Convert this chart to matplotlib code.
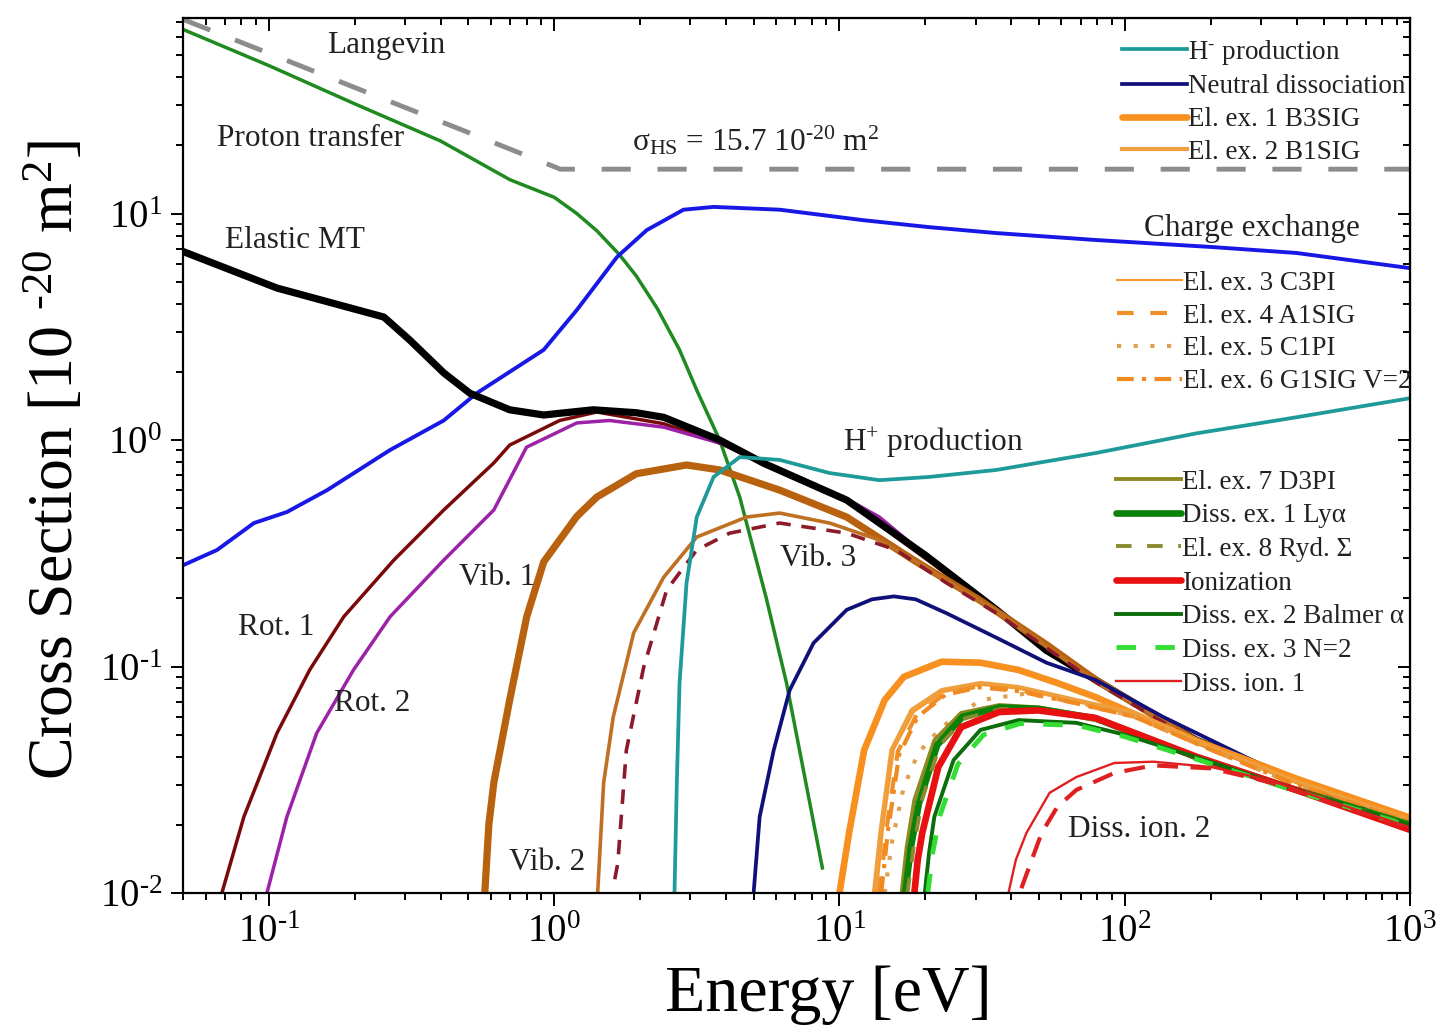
import matplotlib
matplotlib.use("Agg")
import matplotlib.pyplot as plt
import numpy as np
from matplotlib.ticker import NullFormatter, FuncFormatter

plt.rcParams['font.family'] = ['Liberation Serif', 'DejaVu Serif']
plt.rcParams['mathtext.fontset'] = 'custom'
plt.rcParams['mathtext.rm'] = 'Liberation Serif'
plt.rcParams['mathtext.it'] = 'Liberation Serif:italic'
plt.rcParams['mathtext.bf'] = 'Liberation Serif:bold'
plt.rcParams['axes.unicode_minus'] = False

# ---- data (energy in eV, cross section in 1e-20 m^2) ----
lang_E = [0.05, 0.1, 0.2, 0.5, 1.0, 1.05, 10, 100, 1000]
lang_s = [72, 51, 36, 22.8, 16.1, 15.7, 15.7, 15.7, 15.7]

pt_E = [0.05, 0.1, 0.2, 0.4, 0.7, 1.0, 1.2, 1.41, 1.69, 1.94, 2.3, 2.75, 3.16, 3.8, 4.47, 5.54, 6.52, 8.71]
pt_s = [65, 45, 30.5, 20.9, 14.1, 11.8, 10.0, 8.4, 6.6, 5.3, 3.8, 2.5, 1.66, 1.0, 0.56, 0.2, 0.0846, 0.0129]

cx_E = [0.0503, 0.0658, 0.0886, 0.1156, 0.160, 0.266, 0.410, 0.535, 0.918, 1.20, 1.66, 2.11, 2.84, 3.62,
        6.17, 12.1, 20.6, 35.5, 79.4, 204, 399, 1000]
cx_s = [0.281, 0.327, 0.430, 0.481, 0.601, 0.904, 1.22, 1.61, 2.50, 3.75, 6.43, 8.45, 10.4, 10.7,
        10.4, 9.35, 8.71, 8.20, 7.64, 7.11, 6.70, 5.74]

el_E = [0.05, 0.1067, 0.239, 0.253, 0.312, 0.410, 0.506, 0.698, 0.918, 1.37, 1.94, 2.42, 3.80, 5.42,
        10.6, 20, 35.5, 53, 79.4, 178, 399, 1000]
el_s = [6.8, 4.69, 3.56, 3.49, 2.76, 1.98, 1.61, 1.36, 1.29, 1.36, 1.32, 1.26, 1.0, 0.79,
        0.543, 0.31, 0.178, 0.118, 0.087, 0.0473, 0.0316, 0.0204]

rot1_E = [0.0684, 0.0817, 0.1067, 0.139, 0.183, 0.274, 0.410, 0.614, 0.698, 1.045, 1.41, 2.42, 3.80,
          5.42, 10.6, 20, 35.5, 79.4, 178, 399, 1000]
rot1_s = [0.01, 0.0217, 0.0508, 0.0967, 0.166, 0.295, 0.491, 0.792, 0.95, 1.22, 1.33, 1.18, 0.97,
          0.79, 0.54, 0.30, 0.178, 0.087, 0.047, 0.0316, 0.0204]

rot2_E = [0.0984, 0.1156, 0.147, 0.198, 0.266, 0.410, 0.614, 0.80, 1.20, 1.56, 2.42, 3.80, 5.42,
          10.6, 13.8, 20, 35.5, 79.4, 178, 399, 1000]
rot2_s = [0.01, 0.0217, 0.0508, 0.0967, 0.166, 0.295, 0.491, 0.93, 1.19, 1.22, 1.14, 0.97, 0.80,
          0.55, 0.457, 0.31, 0.18, 0.087, 0.047, 0.0316, 0.0204]

vib1_E = [0.571, 0.59, 0.614, 0.698, 0.801, 0.919, 1.20, 1.41, 1.94, 2.91, 3.80, 6.17, 10.6, 18.2,
          30.9, 53.1, 79.4, 178, 399, 1000]
vib1_s = [0.01, 0.02, 0.0306, 0.0711, 0.166, 0.29, 0.46, 0.56, 0.71, 0.776, 0.738, 0.601, 0.457,
          0.295, 0.197, 0.125, 0.087, 0.047, 0.0316, 0.0204]

vib2_E = [1.42, 1.49, 1.61, 1.90, 2.42, 3.16, 4.72, 6.17, 9.23, 13.8, 18.2, 35.5, 79.4, 178, 399, 1000]
vib2_s = [0.01, 0.0306, 0.0598, 0.141, 0.248, 0.373, 0.457, 0.476, 0.430, 0.362, 0.295, 0.176,
          0.086, 0.047, 0.0315, 0.0203]

vib3_E = [1.63, 1.67, 1.79, 2.06, 2.48, 3.16, 4.12, 6.17, 10.6, 15.8, 23.7, 35.5, 79.4, 178, 399, 1000]
vib3_s = [0.0115, 0.0135, 0.0427, 0.0996, 0.218, 0.327, 0.388, 0.430, 0.388, 0.327, 0.234, 0.172,
          0.085, 0.0465, 0.031, 0.020]

hp_E = [2.64, 2.69, 2.75, 2.91, 3.16, 3.62, 4.47, 6.17, 9.23, 13.8, 20.6, 35.5, 79.4, 178, 399, 1000]
hp_s = [0.01, 0.0306, 0.0846, 0.234, 0.457, 0.687, 0.841, 0.817, 0.715, 0.665, 0.687, 0.738, 0.877,
        1.07, 1.26, 1.53]

nd_E = [5.0, 5.25, 5.88, 6.69, 8.11, 10.6, 13.0, 15.5, 18.5, 23.7, 35.5, 53.1, 79.4, 136, 306, 1000]
nd_s = [0.01, 0.0217, 0.0427, 0.0787, 0.127, 0.178, 0.198, 0.204, 0.198, 0.172, 0.134, 0.104, 0.087,
        0.060, 0.0365, 0.0205]

ex1_E = [10.0, 10.8, 12.2, 14.4, 16.8, 22.8, 31.2, 42.4, 58.0, 78.9, 178, 399, 1000]
ex1_s = [0.01, 0.0184, 0.0427, 0.0711, 0.090, 0.105, 0.104, 0.0966, 0.0846, 0.0733, 0.047, 0.032, 0.0215]

ex2_E = [13.2, 13.9, 15.2, 17.9, 22.8, 31.2, 42.4, 67.6, 108, 200, 400, 1000]
ex2_s = [0.01, 0.0184, 0.0427, 0.0643, 0.0787, 0.0846, 0.0812, 0.0711, 0.0624, 0.044, 0.031, 0.021]

ex3_E = [13.5, 14.2, 15.5, 18.2, 23, 31, 42, 67, 108, 200, 400, 1000]
ex3_s = [0.01, 0.019, 0.043, 0.063, 0.077, 0.083, 0.080, 0.070, 0.061, 0.0435, 0.0305, 0.0208]

ex4_E = [13.8, 14.6, 16, 18.6, 23.5, 31, 42, 67, 108, 200, 400, 1000]
ex4_s = [0.01, 0.019, 0.042, 0.061, 0.076, 0.082, 0.079, 0.069, 0.060, 0.043, 0.030, 0.0206]

ex5_E = [14.4, 15.3, 16.8, 18.9, 22.8, 31.2, 45, 67, 108, 200, 400, 1000]
ex5_s = [0.01, 0.017, 0.0294, 0.0415, 0.054, 0.0711, 0.076, 0.070, 0.060, 0.043, 0.030, 0.0205]

ex6_E = [14.0, 14.8, 16.2, 18.8, 23.5, 31, 42, 67, 108, 200, 400, 1000]
ex6_s = [0.01, 0.019, 0.041, 0.060, 0.075, 0.081, 0.078, 0.069, 0.060, 0.043, 0.030, 0.0206]

ex7_E = [16.5, 17.2, 18.3, 21.5, 26.7, 36.3, 49.8, 78.9, 178, 399, 1000]
ex7_s = [0.01, 0.016, 0.0258, 0.0473, 0.0624, 0.0676, 0.066, 0.0598, 0.0398, 0.0285, 0.020]

lya_E = [17.0, 17.8, 19.0, 22, 27, 36.5, 50, 79, 178, 399, 1000]
lya_s = [0.01, 0.016, 0.025, 0.045, 0.060, 0.066, 0.065, 0.059, 0.0398, 0.0285, 0.020]

ex8_E = [17.3, 18.2, 19.5, 22.5, 27.5, 37, 50, 79, 178, 399, 1000]
ex8_s = [0.01, 0.016, 0.026, 0.045, 0.059, 0.065, 0.064, 0.058, 0.0395, 0.0283, 0.020]

ion_E = [18.3, 18.8, 19.5, 22.2, 26.7, 36.3, 49.8, 78.9, 178, 399, 1000]
ion_s = [0.01, 0.014, 0.0184, 0.036, 0.054, 0.063, 0.064, 0.0593, 0.040, 0.0285, 0.019]

bal_E = [19.9, 20.6, 21.5, 25.1, 31.2, 42.4, 67.6, 100, 178, 399, 1000]
bal_s = [0.01, 0.015, 0.0217, 0.0386, 0.0525, 0.058, 0.0564, 0.050, 0.0398, 0.0285, 0.0198]

n2_E = [20.4, 21.2, 22.5, 26, 32, 43, 68, 100, 178, 399, 1000]
n2_s = [0.01, 0.015, 0.022, 0.037, 0.050, 0.056, 0.055, 0.049, 0.039, 0.0282, 0.0197]

di1_E = [39.1, 41.5, 45.2, 54.5, 67.6, 91.9, 126, 201, 318, 508, 1000]
di1_s = [0.01, 0.014, 0.0184, 0.0277, 0.0325, 0.0375, 0.038, 0.036, 0.0316, 0.0258, 0.0195]

di2_E = [43.4, 51.1, 58.0, 67.6, 91.9, 126, 201, 318, 508, 1000]
di2_s = [0.0105, 0.0184, 0.024, 0.0285, 0.0339, 0.0366, 0.0355, 0.031, 0.0255, 0.0192]

# ---- figure ----
fig = plt.figure(figsize=(14.39, 10.30), dpi=100)
ax = fig.add_axes([0.1272, 0.1330, 0.8527, 0.8495])
ax.set_xscale('log')
ax.set_yscale('log')

ax.plot(lang_E, lang_s, color='#8c8c8c', lw=3.5, dashes=(6, 5.5))
ax.plot(pt_E, pt_s, color='#1f8a1f', lw=2.5)
ax.plot(cx_E, cx_s, color='#1818e6', lw=2.8)
ax.plot(rot1_E, rot1_s, color='#7a0a0a', lw=2.5)
ax.plot(rot2_E, rot2_s, color='#9c22a8', lw=2.5)
ax.plot(el_E, el_s, color='black', lw=5.2)
ax.plot(vib1_E, vib1_s, color='#b8620f', lw=5.2)
ax.plot(vib2_E, vib2_s, color='#c07022', lw=2.6)
ax.plot(vib3_E, vib3_s, color='#8b1a2a', lw=2.6, dashes=(4, 3))
h_hp, = ax.plot(hp_E, hp_s, color='#1f9a9a', lw=2.7)
h_nd, = ax.plot(nd_E, nd_s, color='#10107a', lw=2.7)
h_ex1, = ax.plot(ex1_E, ex1_s, color='#f7901e', lw=4.8, solid_capstyle='round')
h_ex2, = ax.plot(ex2_E, ex2_s, color='#eea040', lw=3)
h_ex3, = ax.plot(ex3_E, ex3_s, color='#f59a30', lw=1.5)
h_ex4, = ax.plot(ex4_E, ex4_s, color='#f0902a', lw=3, dashes=(4, 4))
h_ex5, = ax.plot(ex5_E, ex5_s, color='#e0a050', lw=3, dashes=(1, 3))
h_ex6, = ax.plot(ex6_E, ex6_s, color='#f08a20', lw=3, dashes=(4, 2, 1, 2))
h_ex7, = ax.plot(ex7_E, ex7_s, color='#8c8a20', lw=2.8)
h_lya, = ax.plot(lya_E, lya_s, color='#0a820a', lw=4.8, solid_capstyle='round')
h_ex8, = ax.plot(ex8_E, ex8_s, color='#8a8a30', lw=2.8, dashes=(4, 4))
h_ion, = ax.plot(ion_E, ion_s, color='#e81010', lw=4.8, solid_capstyle='round')
h_bal, = ax.plot(bal_E, bal_s, color='#0b6e0b', lw=2.8)
h_n2, = ax.plot(n2_E, n2_s, color='#33dd33', lw=3.5, dashes=(4, 4))
h_di1, = ax.plot(di1_E, di1_s, color='#e02020', lw=1.7)
ax.plot(di2_E, di2_s, color='#e02020', lw=3, dashes=(5, 3))

ax.set_xlim(0.05, 1000)
ax.set_ylim(0.01, 73)


def dec_fmt(v, pos):
    e = int(round(np.log10(v)))
    if e < 0:
        return '$\\mathregular{10^{\\text{-%d}}}$' % (-e)
    return '$\\mathregular{10^{%d}}$' % e


# ---- axes styling ----
for s in ax.spines.values():
    s.set_linewidth(1.6)
ax.tick_params(which='both', direction='out', width=1.4, labelsize=28, top=False, right=False)
ax.tick_params(which='major', length=9, pad=6)
ax.tick_params(which='minor', length=5)
ax.xaxis.set_major_formatter(FuncFormatter(dec_fmt))
ax.yaxis.set_major_formatter(FuncFormatter(dec_fmt))
ax.xaxis.set_minor_formatter(NullFormatter())
ax.yaxis.set_minor_formatter(NullFormatter())

secx = ax.secondary_xaxis('top')
secx.tick_params(which='both', direction='in', width=1.4, labeltop=False)
secx.tick_params(which='major', length=9)
secx.tick_params(which='minor', length=5)
secx.xaxis.set_major_formatter(NullFormatter())
secx.xaxis.set_minor_formatter(NullFormatter())
secy = ax.secondary_yaxis('right')
secy.tick_params(which='both', direction='in', width=1.4, labelright=False)
secy.tick_params(which='major', length=9)
secy.tick_params(which='minor', length=5)
secy.yaxis.set_major_formatter(NullFormatter())
secy.yaxis.set_minor_formatter(NullFormatter())

ax.set_xlabel('Energy [eV]', fontsize=47.5)
ax.xaxis.set_label_coords(0.526, -0.083)
ax.set_ylabel('Cross Section [10 $^{\\text{-20}}$ m$^{\\mathregular{2}}$]', fontsize=46)
ax.yaxis.set_label_coords(-0.078, 0.495)

# ---- curve labels ----
lab = dict(fontsize=22.5, color='#222222', va='center')
ax.text(0.16, 55, 'Langevin', **lab)
ax.text(0.066, 21.5, 'Proton transfer', **lab)
ax.text(1.88, 21, 'σ$_{\\mathregular{HS}}$ = 15.7 10$^{\\text{-20}}$ m$^{\\mathregular{2}}$', **lab)
ax.text(0.070, 7.6, 'Elastic MT', **lab)
ax.text(117, 8.6, 'Charge exchange', **lab)
ax.text(10.3, 0.97, 'H$^{\\mathregular{+}}$ production', **lab)
ax.text(6.17, 0.30, 'Vib. 3', **lab)
ax.text(0.464, 0.248, 'Vib. 1', **lab)
ax.text(0.078, 0.149, 'Rot. 1', **lab)
ax.text(0.169, 0.069, 'Rot. 2', **lab)
ax.text(0.693, 0.0137, 'Vib. 2', **lab)
ax.text(63.4, 0.019, 'Diss. ion. 2', **lab)

# ---- legends (three blocks) ----
leg_kw = dict(loc='upper left', frameon=False, fontsize=19.5, handlelength=2.4,
              handletextpad=0.05, labelspacing=0.285, borderpad=0, borderaxespad=0)
leg1 = ax.legend([h_hp, h_nd, h_ex1, h_ex2],
                 ['H$^{\\text{-}}$ production', 'Neutral dissociation',
                  'El. ex. 1 B3SIG', 'El. ex. 2 B1SIG'],
                 bbox_to_anchor=(0.765, 0.9775), **leg_kw)
ax.add_artist(leg1)
leg2 = ax.legend([h_ex3, h_ex4, h_ex5, h_ex6],
                 ['El. ex. 3 C3PI', 'El. ex. 4 A1SIG', 'El. ex. 5 C1PI', 'El. ex. 6 G1SIG V=2'],
                 bbox_to_anchor=(0.761, 0.711), **leg_kw)
ax.add_artist(leg2)
leg3 = ax.legend([h_ex7, h_lya, h_ex8, h_ion, h_bal, h_n2, h_di1],
                 ['El. ex. 7 D3PI', 'Diss. ex. 1 Lyα', 'El. ex. 8 Ryd. Σ', 'Ionization',
                  'Diss. ex. 2 Balmer α', 'Diss. ex. 3 N=2', 'Diss. ion. 1'],
                 bbox_to_anchor=(0.760, 0.484), labelspacing=0.32,
                 **{k: v for k, v in leg_kw.items() if k != 'labelspacing'})
for lg in (leg1, leg2, leg3):
    for t in lg.get_texts():
        t.set_color('#222222')
        t.set_clip_box(ax.bbox)
        t.set_clip_on(True)

fig.savefig('out.png', dpi=100)
